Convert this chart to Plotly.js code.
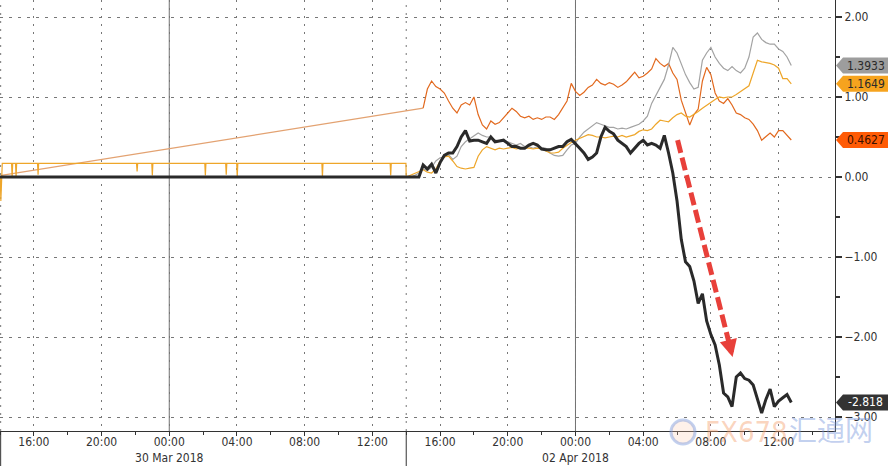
<!DOCTYPE html>
<html><head><meta charset="utf-8">
<script src="https://cdn.plot.ly/plotly-3.0.1.min.js"></script>
<style>html,body{margin:0;padding:0;background:#fff}#chart{width:890px;height:466px}</style>
</head><body><div id="chart"></div>
<script>
// ---------- axis / tick data ----------
const tickTimes = ['2018-03-29 16:00','2018-03-29 20:00','2018-03-30 00:00','2018-03-30 04:00','2018-03-30 08:00','2018-03-30 12:00',
                   '2018-04-01 16:00','2018-04-01 20:00','2018-04-02 00:00','2018-04-02 04:00','2018-04-02 08:00','2018-04-02 12:00'];
const tickLabels = ['16:00','20:00','00:00<br>30 Mar 2018','04:00','08:00','12:00',
                    '16:00','20:00','00:00<br>02 Apr 2018','04:00','08:00','12:00'];
const dayLines = ['2018-03-30 00:00','2018-04-02 00:00'];
const sessionBreak = ['2018-03-30 14:00','2018-04-01 14:00'];
const axisRange = ['2018-03-29 14:00','2018-04-02 15:20'];
const yRange = [-3.175, 2.2125];

// ---------- 29-30 Mar segment ----------
const blackFriTimes = ['2018-03-29 14:00','2018-03-30 13:59'];
const blackFriValues = [0, 0];
const greyFriTimes = ['2018-03-29 14:00','2018-03-30 13:59'];
const greyFriValues = [0, 0];
const orangeFriTimes = ['2018-03-29 14:05'];
const orangeFriValues = [0.02];
const yellowFriTimes = ['2018-03-29 14:01','2018-03-29 14:03','2018-03-29 14:08',
  '2018-03-29 14:41','2018-03-29 14:43','2018-03-29 14:45',
  '2018-03-29 14:55','2018-03-29 14:57','2018-03-29 14:59',
  '2018-03-29 16:13','2018-03-29 16:15','2018-03-29 16:17',
  '2018-03-29 22:04','2018-03-29 22:06','2018-03-29 22:08',
  '2018-03-29 22:58','2018-03-29 23:00','2018-03-29 23:02',
  '2018-03-30 02:06','2018-03-30 02:08','2018-03-30 02:10',
  '2018-03-30 03:20','2018-03-30 03:22','2018-03-30 03:24',
  '2018-03-30 03:59','2018-03-30 04:01','2018-03-30 04:03',
  '2018-03-30 09:01','2018-03-30 09:03','2018-03-30 09:05',
  '2018-03-30 13:03','2018-03-30 13:05','2018-03-30 13:07',
  '2018-03-30 13:59'];
const yellowFriValues = [0.0,-0.3,0.17,
  0.17,0.0,0.17,
  0.17,0.0,0.17,
  0.17,0.03,0.17,
  0.17,0.07,0.17,
  0.17,0.02,0.17,
  0.17,0.02,0.17,
  0.17,0.03,0.17,
  0.17,0.0,0.17,
  0.17,0.0,0.17,
  0.17,0.02,0.17,
  0.17];

// ---------- 1-2 Apr session, 15-minute samples from 14:00 1 Apr ----------
const sessionStartUTC = Date.UTC(2018, 3, 1, 14, 0);
const stepMinutes = 15;
const blackValues = [0,0,0,0,0.15,0.1,0.16,0.05,0.18,0.27,
  0.3,0.3,0.38,0.5,0.58,0.45,0.46,0.46,0.44,0.42,
  0.5,0.44,0.45,0.46,0.42,0.38,0.38,0.36,0.36,0.4,
  0.42,0.4,0.35,0.34,0.34,0.36,0.38,0.38,0.44,0.47,
  0.42,0.36,0.3,0.22,0.25,0.3,0.5,0.62,0.57,0.54,
  0.46,0.42,0.38,0.3,0.36,0.42,0.46,0.4,0.42,0.4,
  0.36,0.52,0.3,0.05,-0.3,-0.78,-1.06,-1.12,-1.3,-1.58,
  -1.46,-1.8,-1.97,-2.1,-2.35,-2.7,-2.75,-2.87,-2.5,-2.45,
  -2.52,-2.54,-2.6,-2.78,-2.95,-2.78,-2.65,-2.87,-2.8,-2.76,
  -2.72,-2.818];
const greyValues = [0,0,0.02,0.05,0.1,0.08,0.12,0.2,0.24,0.25,
  0.28,0.22,0.26,0.38,0.44,0.48,0.52,0.55,0.52,0.5,
  0.5,0.46,0.45,0.46,0.44,0.42,0.4,0.42,0.38,0.38,
  0.36,0.38,0.37,0.36,0.3,0.27,0.26,0.27,0.34,0.4,
  0.42,0.5,0.56,0.6,0.65,0.68,0.66,0.64,0.62,0.62,
  0.6,0.61,0.6,0.62,0.64,0.66,0.7,0.76,0.92,1.02,
  1.1,1.22,1.4,1.62,1.55,1.42,1.28,1.18,1.1,1.12,
  1.46,1.55,1.62,1.5,1.42,1.36,1.33,1.38,1.33,1.3,
  1.36,1.5,1.75,1.8,1.72,1.68,1.66,1.66,1.6,1.57,
  1.5,1.3933];
const yellowValues = [0,0.02,0.04,0.07,0.09,0.06,0.05,0.1,0.2,0.25,
  0.26,0.2,0.13,0.11,0.1,0.11,0.12,0.26,0.34,0.38,
  0.36,0.34,0.36,0.35,0.36,0.37,0.35,0.36,0.36,0.36,
  0.35,0.36,0.35,0.33,0.3,0.3,0.31,0.36,0.4,0.43,
  0.46,0.48,0.5,0.53,0.52,0.5,0.5,0.49,0.5,0.51,
  0.5,0.52,0.5,0.52,0.53,0.57,0.59,0.58,0.6,0.66,
  0.71,0.7,0.69,0.74,0.78,0.8,0.76,0.75,0.78,0.82,
  0.86,0.9,0.94,0.97,1.0,0.99,1.0,1.0,1.03,1.07,
  1.1,1.14,1.3,1.46,1.44,1.43,1.42,1.4,1.36,1.23,
  1.23,1.1649];
const orangeValues = [null,null,null,null,0.86,1.1,1.2,1.13,1.1,1.05,
  0.95,0.86,0.8,0.9,0.93,0.9,1.0,0.78,0.65,0.6,
  0.7,0.66,0.68,0.74,0.8,0.86,0.82,0.76,0.74,0.76,
  0.72,0.74,0.72,0.75,0.75,0.72,0.78,0.87,0.95,1.17,
  1.07,1.02,1.06,1.12,1.15,1.22,1.17,1.15,1.18,1.16,
  1.12,1.15,1.19,1.25,1.31,1.24,1.26,1.3,1.35,1.48,
  1.42,1.38,1.42,1.3,1.22,0.96,0.8,0.65,0.78,0.85,
  1.2,1.37,1.28,1.05,0.95,0.92,0.98,0.9,0.8,0.78,
  0.74,0.72,0.66,0.58,0.46,0.5,0.55,0.5,0.58,0.58,
  0.52,0.4627];

// ---------- arrow annotation (red dashed) ----------
const arrowStart = ['2018-04-02 06:02', 0.46];
const arrowShaftEnd = ['2018-04-02 09:05', -2.08];
const arrowTip = ['2018-04-02 09:17', -2.25];

// ---------- styling ----------
const FONT = '"DejaVu Sans Condensed", "DejaVu Sans", sans-serif';
const COL = {black:'#2a2a2a', grey:'#a3a3a3', yellow:'#eea62a', orange:'#e2691e', orangeGap:'#e3a271'};
const TAG = {
  grey:{bg:'#9d9d9d', fg:'#2a2a2a'},
  yellow:{bg:'#f6a31e', fg:'#2a2a2a'},
  orange:{bg:'#ff5b05', fg:'#3a1000'},
  black:{bg:'#333333', fg:'#ffffff'}
};

function sessionTimes(n){
  const out = [];
  for(let i=0;i<n;i++){
    out.push(new Date(sessionStartUTC + i*stepMinutes*60000).toISOString().slice(0,16).replace('T',' '));
  }
  return out;
}
const sessT = sessionTimes(blackValues.length);

function mk(friT, friV, vals, color, width){
  return {type:'scatter', mode:'lines', x: friT.concat(sessT), y: friV.concat(vals),
          connectgaps:true, line:{color:color, width:width}, hoverinfo:'skip'};
}
// orange: the no-data stretch is bridged by a straight (lighter) segment
const firstOrange = orangeValues.findIndex(v => v !== null);
const orangeGap = {type:'scatter', mode:'lines', x:[orangeFriTimes[0], sessT[firstOrange]],
  y:[orangeFriValues[0], orangeValues[firstOrange]], line:{color:COL.orangeGap, width:1.2}, hoverinfo:'skip'};
const orangeMain = {type:'scatter', mode:'lines', x: sessT.slice(firstOrange), y: orangeValues.slice(firstOrange),
  line:{color:COL.orange, width:1.2}, hoverinfo:'skip'};
const traces = [
  orangeGap, orangeMain,
  mk(greyFriTimes, greyFriValues, greyValues, COL.grey, 1.2),
  mk(yellowFriTimes, yellowFriValues, yellowValues, COL.yellow, 1.2),
  mk(blackFriTimes, blackFriValues, blackValues, COL.black, 3)
];

// ---------- tags at right ----------
const plotW = 835, plotH = 431;
const last = {
  grey: greyValues[greyValues.length-1],
  yellow: yellowValues[yellowValues.length-1],
  orange: orangeValues[orangeValues.length-1],
  black: blackValues[blackValues.length-1]
};
const shapes = [];
const annotations = [];
const yPaper = v => (v - yRange[0])/(yRange[1]-yRange[0]);
const tipX = 836/plotW, bodyX = 843/plotW, rightX = 888/plotW, hh = 8/plotH;
['grey','yellow','orange','black'].forEach(k=>{
  const yc = yPaper(last[k]);
  shapes.push({type:'path', xref:'paper', yref:'paper', layer:'above',
    path:`M ${tipX},${yc} L ${bodyX},${yc+hh} L ${rightX},${yc+hh} L ${rightX},${yc-hh} L ${bodyX},${yc-hh} Z`,
    fillcolor:TAG[k].bg, line:{width:0}});
  annotations.push({xref:'paper', yref:'y', x:(bodyX+rightX)/2, y:last[k], xanchor:'center', yanchor:'middle',
    text: last[k].toString(), showarrow:false, font:{family:FONT, size:12, color:TAG[k].fg}});
});

// day separators and session break
dayLines.forEach(d=>shapes.push({type:'line', xref:'x', yref:'paper', x0:d, x1:d, y0:0, y1:1, layer:'below',
  line:{color:'#707070', width:1}}));
shapes.push({type:'line', xref:'x', yref:'paper', x0:sessionBreak[0], x1:sessionBreak[0], y0:0, y1:1, layer:'below',
  line:{color:'#777', width:1, dash:'2px,6px'}});
shapes.push({type:'line', xref:'paper', yref:'paper', x0:0.0008, x1:0.0008, y0:0, y1:1, layer:'below',
  line:{color:'#777', width:1, dash:'2px,6px'}});
// date-section separators below the axis
shapes.push({type:'line', xref:'paper', yref:'paper', x0:0.0008, x1:0.0008, y0:0, y1:-0.09, line:{color:'#333', width:1}});
shapes.push({type:'line', xref:'x', yref:'paper', x0:sessionBreak[0], x1:sessionBreak[0], y0:0, y1:-0.09, line:{color:'#333', width:1}});

// red dashed arrow
shapes.push({type:'line', xref:'x', yref:'y', x0:arrowStart[0], y0:arrowStart[1], x1:arrowShaftEnd[0], y1:arrowShaftEnd[1],
  layer:'above', line:{color:'#e8403a', width:5, dash:'13px,5px'}});
annotations.push({xref:'x', yref:'y', x:arrowTip[0], y:arrowTip[1], ax:-4, ay:-16, text:'', showarrow:true,
  arrowhead:2, arrowsize:0.7, arrowwidth:5, arrowcolor:'#e8403a'});

// watermark
shapes.push({type:'circle', xref:'paper', yref:'paper', x0:671/plotW, x1:695/plotW, y0:(plotH-444)/plotH, y1:(plotH-420)/plotH,
  layer:'above', line:{color:'rgba(120,150,220,0.45)', width:3}, fillcolor:'rgba(250,200,170,0.25)'});
annotations.push({xref:'paper', yref:'paper', x:746/plotW, y:(plotH-432)/plotH, xanchor:'center', yanchor:'middle',
  text:'FX678', showarrow:false, font:{family:'"DejaVu Sans Condensed", sans-serif', size:29, color:'rgba(245,160,110,0.45)'}});
annotations.push({xref:'paper', yref:'paper', x:831/plotW, y:(plotH-429)/plotH, xanchor:'center', yanchor:'middle',
  text:'汇通网', showarrow:false, font:{family:'"Noto Sans CJK SC", sans-serif', size:28, color:'rgba(120,150,220,0.45)'}});

const layout = {
  width:890, height:466,
  margin:{l:0, r:55, t:0, b:35},
  paper_bgcolor:'#ffffff', plot_bgcolor:'#ffffff',
  showlegend:false,
  font:{family:FONT, size:12, color:'#333'},
  xaxis:{type:'date', range:axisRange, rangebreaks:[{bounds:sessionBreak}],
    tickmode:'array', tickvals:tickTimes, ticktext:tickLabels,
    showgrid:true, gridcolor:'#777', gridwidth:1, griddash:'2px,6px',
    showline:true, linecolor:'#333', linewidth:1,
    ticks:'outside', ticklen:4, tickcolor:'#333', ticklabelstandoff:-4,
    minor:{tickmode:'linear', tick0:'2018-03-29 14:00', dtick:7200000, ticks:'outside', ticklen:3, tickcolor:'#333', showgrid:false},
    zeroline:false, fixedrange:true, tickfont:{family:FONT, size:12, color:'#333'}},
  yaxis:{side:'right', range:yRange, tickmode:'linear', tick0:0, dtick:1, tickformat:'.2f',
    showgrid:true, gridcolor:'#777', gridwidth:1, griddash:'3px,6px',
    showline:true, linecolor:'#333', linewidth:1,
    ticks:'outside', ticklen:6, tickwidth:2, tickcolor:'#333',
    minor:{dtick:0.5, ticks:'outside', ticklen:4, tickcolor:'#333', showgrid:false},
    zeroline:false, fixedrange:true, tickfont:{family:FONT, size:12, color:'#333'}},
  shapes:shapes, annotations:annotations
};
Plotly.newPlot('chart', traces, layout, {staticPlot:true, displayModeBar:false});
</script>
</body></html>
